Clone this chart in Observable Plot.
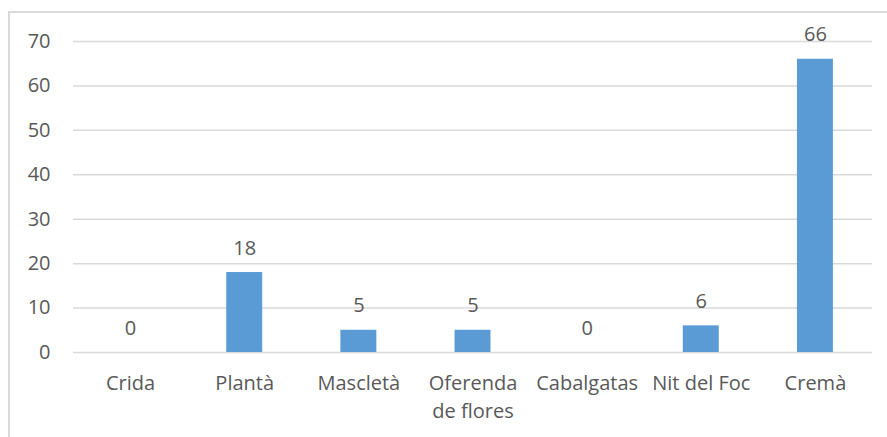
<!DOCTYPE html>
<html>
<head>
<meta charset="utf-8">
<script src="https://cdn.jsdelivr.net/npm/d3@7"></script>
<script src="https://cdn.jsdelivr.net/npm/@observablehq/plot@0.6"></script>
<style>
  html, body { margin: 0; padding: 0; background: #fff; overflow: hidden; }
  #wrap { position: relative; width: 887px; height: 437px; }
  #frame { position: absolute; left: 8px; top: 11px; width: 1000px; height: 1000px; border: 2px solid #D9D9D9; box-sizing: border-box; }
  #chart { position: absolute; left: 0; top: 0; }
</style>
</head>
<body>
<div id="wrap"><div id="frame"></div><div id="chart"></div></div>
<script>
const categories = ["Crida", "Plantà", "Mascletà", "Oferenda de flores", "Cabalgatas", "Nit del Foc", "Cremà"];
const tickLabels = ["Crida", "Plantà", "Mascletà", "Oferenda\nde flores", "Cabalgatas", "Nit del Foc", "Cremà"];
const values = [0, 18, 5, 5, 0, 6, 66];
const yTicks = [0, 10, 20, 30, 40, 50, 60, 70];

const data = categories.map((c, i) => ({category: c, value: values[i]}));
const labelOf = new Map(categories.map((c, i) => [c, tickLabels[i]]));

const textColor = "#595959";
const font = "'Open Sans', sans-serif";

const chart = Plot.plot({
  width: 887,
  height: 437,
  marginLeft: 73,
  marginRight: 15,
  marginTop: 41,
  marginBottom: 85,
  style: {fontFamily: font, fontSize: "20px", color: textColor, background: "transparent"},
  x: {domain: categories, paddingInner: 0.685, paddingOuter: 0.3425, align: 0.5, round: false},
  y: {domain: [0, 70]},
  marks: [
    Plot.gridY(yTicks, {stroke: "#D9D9D9", strokeOpacity: 1, strokeWidth: 1.5}),
    Plot.barY(data, {x: "category", y: "value", fill: "#5B9BD5"}),
    Plot.text(data, {x: "category", y: "value", text: d => String(d.value), lineAnchor: "bottom", dy: -18, fill: textColor, fontSize: 20}),
    Plot.axisY(yTicks, {tickSize: 0, tickPadding: 23, fill: textColor, fontSize: 20, label: null}),
    Plot.axisX({tickSize: 0, tickPadding: 18, fill: textColor, fontSize: 20, lineHeight: 1.4, label: null, tickFormat: d => labelOf.get(d)})
  ]
});
document.getElementById("chart").appendChild(chart);
</script>
</body>
</html>
